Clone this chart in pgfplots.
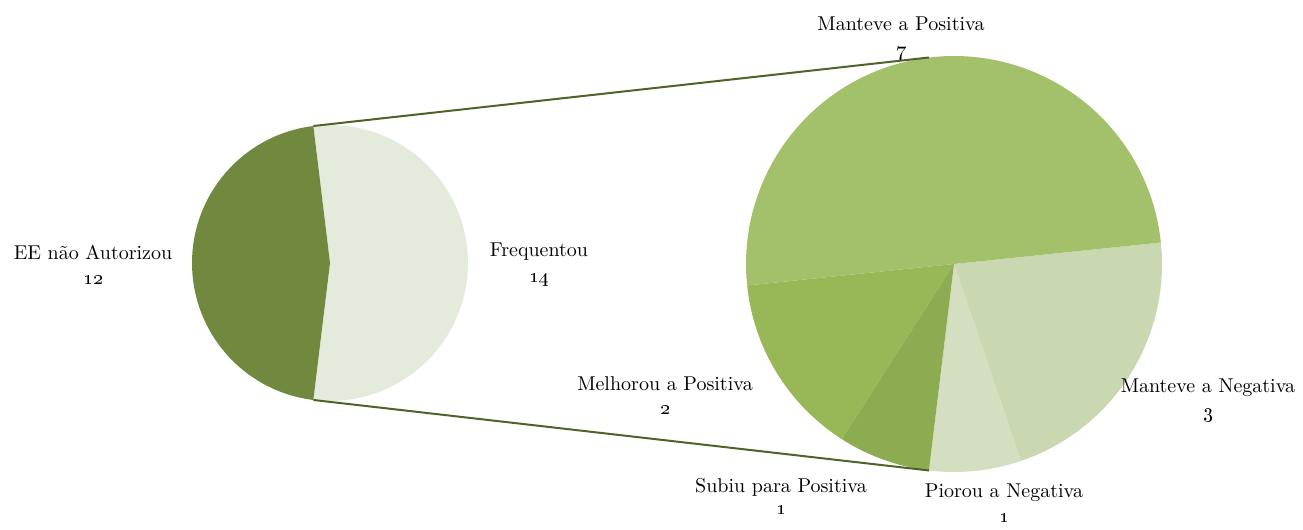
\documentclass[border=0pt]{standalone}
\usepackage{pgfplots}
\pgfplotsset{compat=1.18}
\definecolor{eeDark}{HTML}{71893F}
\definecolor{freqLight}{HTML}{E5EBDC}
\definecolor{mPos}{HTML}{A3C16B}
\definecolor{mNeg}{HTML}{C9D8B1}
\definecolor{pNeg}{HTML}{D3DFC0}
\definecolor{sPos}{HTML}{8DAB50}
\definecolor{melPos}{HTML}{98B757}
\definecolor{linkLine}{HTML}{4F6228}
\begin{document}
\begin{tikzpicture}
% data
\def\vEE{12}\def\vFreq{14}
\def\vPiorou{1}\def\vMNeg{3}\def\vMPos{7}\def\vMel{2}\def\vSub{1}
% left pie: Frequentou centred on the right side
\pgfmathsetmacro\tot{\vEE+\vFreq}
\pgfmathsetmacro\fA{-180*\vFreq/\tot}
\pgfmathsetmacro\fB{180*\vFreq/\tot}
\pgfmathsetmacro\eB{\fB+360*\vEE/\tot}
% right pie
\pgfmathsetmacro\totR{\vPiorou+\vMNeg+\vMPos+\vMel+\vSub}
\pgfmathsetmacro\rA{\fA}
\pgfmathsetmacro\rB{\rA+360*\vPiorou/\totR}
\pgfmathsetmacro\rC{\rB+360*\vMNeg/\totR}
\pgfmathsetmacro\rD{\rC+360*\vMPos/\totR}
\pgfmathsetmacro\rE{\rD+360*\vMel/\totR}
\pgfmathsetmacro\rF{\rE+360*\vSub/\totR}
\begin{axis}[
    x=0.5pt, y=0.5pt,
    xmin=0, xmax=1303, ymin=0, ymax=526,
    hide axis, clip=false,
    samples=90,
    every node/.style={font=\fontsize{10.6}{12}\selectfont, text=black}
]
\addplot[draw=none] coordinates {(0,0) (1303,526)};
% left pie (centre 330,263, r 138)
\addplot[fill=freqLight, draw=none, domain=\fA:\fB, variable=\t]
  ({330+138*cos(t)},{263+138*sin(t)}) -- (330,263) -- cycle;
\addplot[fill=eeDark, draw=none, domain=\fB:\eB, variable=\t]
  ({330+138*cos(t)},{263+138*sin(t)}) -- (330,263) -- cycle;
% right pie (centre 954,262, r 208)
\addplot[fill=pNeg, draw=none, domain=\rA:\rB, variable=\t]
  ({954+208*cos(t)},{262+208*sin(t)}) -- (954,262) -- cycle;
\addplot[fill=mNeg, draw=none, domain=\rB:\rC, variable=\t]
  ({954+208*cos(t)},{262+208*sin(t)}) -- (954,262) -- cycle;
\addplot[fill=mPos, draw=none, domain=\rC:\rD, variable=\t]
  ({954+208*cos(t)},{262+208*sin(t)}) -- (954,262) -- cycle;
\addplot[fill=melPos, draw=none, domain=\rD:\rE, variable=\t]
  ({954+208*cos(t)},{262+208*sin(t)}) -- (954,262) -- cycle;
\addplot[fill=sPos, draw=none, domain=\rE:\rF, variable=\t]
  ({954+208*cos(t)},{262+208*sin(t)}) -- (954,262) -- cycle;
% connector lines
\draw[linkLine, line width=1pt]
  ({330+138*cos(\fB)},{263+138*sin(\fB)}) -- ({954+208*cos(\fB)},{262+208*sin(\fB)});
\draw[linkLine, line width=1pt]
  ({330+138*cos(\fA)},{263+138*sin(\fA)}) -- ({954+208*cos(\fA)},{262+208*sin(\fA)});
% labels
\node at (93,274) {EE não Autorizou};
\node at (93,246) {\oldstylenums{12}};
\node at (539,274) {Frequentou};
\node at (539,246) {\oldstylenums{14}};
\node at (901,502) {Manteve a Positiva};
\node at (901,473) {\oldstylenums{7}};
\node at (665,142) {Melhorou a Positiva};
\node at (665,116) {\oldstylenums{2}};
\node at (1208,138) {Manteve a Negativa};
\node at (1208,111) {\oldstylenums{3}};
\node at (781,39) {Subiu para Positiva};
\node at (781,16) {\oldstylenums{1}};
\node at (1004,33) {Piorou a Negativa};
\node at (1004,8) {\oldstylenums{1}};
\end{axis}
\end{tikzpicture}
\end{document}
